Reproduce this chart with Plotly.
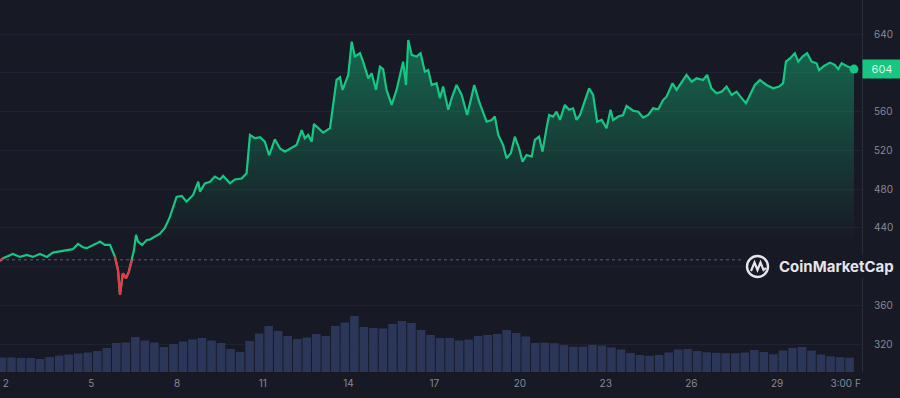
import plotly.graph_objects as go

# ---------------- data ----------------
# time in days of the month, price in USD
days = [1.80, 1.91, 2.25, 2.50, 2.74, 2.95, 3.20, 3.44, 3.65, 3.90, 4.14, 4.35, 4.53, 4.70, 4.84,
        5.02, 5.19, 5.30, 5.47, 5.65, 5.82, 5.93, 6.00, 6.10, 6.21, 6.31, 6.42, 6.49, 6.56, 6.63,
        6.77, 6.94, 7.05, 7.22, 7.40, 7.57, 7.75, 7.98, 8.16, 8.33, 8.56, 8.74, 8.80, 8.97, 9.15,
        9.32, 9.50, 9.61, 9.85, 10.02, 10.26, 10.43, 10.55, 10.72, 10.90, 11.07, 11.22, 11.42, 11.60, 11.77,
        11.95, 12.18, 12.36, 12.47, 12.59, 12.71, 12.79, 12.94, 13.11, 13.35, 13.44, 13.58, 13.70, 13.79, 13.99,
        14.11, 14.22, 14.40, 14.51, 14.69, 14.81, 14.96, 15.10, 15.21, 15.33, 15.51, 15.68, 15.91, 16.01, 16.09,
        16.21, 16.38, 16.52, 16.67, 16.79, 16.91, 17.08, 17.20, 17.31, 17.49, 17.61, 17.78, 17.96, 18.15, 18.25,
        18.40, 18.57, 18.71, 18.83, 19.01, 19.12, 19.24, 19.41, 19.53, 19.68, 19.82, 19.97, 20.09, 20.23, 20.41,
        20.52, 20.67, 20.79, 20.93, 21.02, 21.16, 21.28, 21.40, 21.57, 21.72, 21.86, 21.98, 22.10, 22.24, 22.42,
        22.56, 22.70, 22.86, 23.03, 23.17, 23.26, 23.44, 23.61, 23.73, 23.96, 24.14, 24.31, 24.49, 24.66, 24.84,
        25.01, 25.13, 25.34, 25.48, 25.66, 25.83, 26.01, 26.18, 26.41, 26.55, 26.70, 26.88, 27.06, 27.23, 27.41,
        27.58, 27.76, 27.91, 28.05, 28.22, 28.40, 28.63, 28.86, 29.07, 29.21, 29.31, 29.45, 29.62, 29.74, 29.89,
        30.05, 30.21, 30.38, 30.47, 30.64, 30.85, 31.02, 31.14, 31.26, 31.43, 31.69]

price = [406, 408.6, 413, 410, 412, 410, 413, 410, 414.5, 415.5, 417, 418, 423.4, 420, 419,
         421.3, 424, 425.8, 422.4, 422.4, 410.3, 396.5, 370.7, 393, 388, 394.8, 407, 417, 432.7, 425.8,
         422.4, 427.5, 428, 431, 434, 440, 451.6, 472, 473, 467, 474, 487.7, 477.4, 486, 487.7,
         493, 490, 493.6, 486, 490, 491, 496.4, 536, 532.6, 533.6, 529, 515, 531.5, 522, 518.7,
         522, 525.6, 541, 532.6, 536, 529, 547.3, 543, 538.4, 543, 565, 593, 595.6, 582.5, 598,
         632.4, 617, 620.4, 611.7, 594.5, 599.7, 582.5, 606.5, 604, 582.5, 567, 582.5, 611.7, 587.6, 634,
         618.6, 617, 620.4, 601.4, 603, 587.6, 589.4, 574, 586, 562, 574, 587.6, 577.3, 556.6, 568.7,
         587.6, 570.4, 560, 549.7, 551.5, 555, 536, 525.6, 512, 517, 534.2, 522, 508.4, 515.3, 513.6,
         530.8, 534.2, 518.7, 543, 556.6, 555, 560, 551.5, 567, 562, 563.5, 551.5, 556.6, 568.7, 584.2,
         577.3, 549.7, 551.5, 543, 562, 551.5, 555, 556.6, 566, 561, 560, 554, 556.6, 563.5, 562.5,
         572, 575.5, 589.4, 582.5, 591, 598, 591, 594.5, 592.8, 598, 584.2, 579, 580.7, 586, 577.3,
         580.7, 574, 568.7, 577.3, 587.6, 592.8, 587.6, 584.2, 586, 589.4, 611.7, 615, 620.4, 611.7, 617,
         620.4, 611.7, 610, 603, 607.2, 610.7, 608.3, 604, 610, 607.2, 604]

base_price = 407  # opening price of the period (dotted reference line)

# 8-hour volume bars (arbitrary units)
volume = [14.5, 14.5, 14, 14, 13, 15, 16.5, 17.5, 18.5, 19.5,
          21, 24, 29, 29.5, 35, 31.5, 29.5, 25, 28, 30.5,
          32.5, 34, 31.5, 29, 23, 20, 31, 38.5, 46, 41,
          36, 33, 34.5, 38, 36, 46, 49.5, 56, 45, 44,
          43.5, 48, 51, 49, 42, 37, 34, 34, 31.5, 32.5,
          36, 37, 38, 42, 39, 35.5, 29, 29.3, 28.7, 27,
          25.3, 25.3, 27, 26.5, 24.5, 22.5, 19, 17, 16.3, 17,
          19.5, 22.5, 23, 21, 19.7, 19.2, 18.8, 18.7, 19.5, 22,
          20, 17.8, 21.5, 24, 25, 21.5, 17.5, 15.7, 14.8, 14.3]
volume_start_day = 1.87
volume_step_day = 1 / 3
volume_days = [volume_start_day + i * volume_step_day for i in range(len(volume))]

x_tick_vals = [2, 5, 8, 11, 14, 17, 20, 23, 26, 29, 31.40]
x_tick_text = ["2", "5", "8", "11", "14", "17", "20", "23", "26", "29", "3:00 F"]
y_tick_vals = [320, 360, 400, 440, 480, 520, 560, 600, 640]
# 400 and 600 are hidden behind the logo and the price badge in the reference
y_tick_text = ["320", "360", "", "440", "480", "520", "560", "", "640"]

# ---------------- style ----------------
BG = "#171924"
GREEN = "#16c784"
RED = "#ea3943"
VOL = "#2c3659"
GRID = "#1f2230"
TXT = "#858a98"
FONT = "Inter, Roboto, sans-serif"

W, H = 900, 398
ML, MR, MT, MB = 0, 38, 0, 26
PW, PH = W - ML - MR, H - MT - MB

def pp(x, y):
    """pixel position -> paper coords (decorations only)"""
    return (x - ML) / PW, (H - MB - y) / PH

fig = go.Figure()

# volume bars
fig.add_trace(go.Bar(x=volume_days, y=volume, yaxis="y2", marker=dict(color=VOL, line=dict(width=0)),
                     hoverinfo="skip", showlegend=False))

# price line with gradient fill
fig.add_trace(go.Scatter(
    x=days, y=price, mode="lines", line=dict(color=GREEN, width=2.2),
    fill="tozeroy",
    fillgradient=dict(type="vertical",
                      colorscale=[[0, "rgba(22,199,132,0)"], [1, "rgba(22,199,132,0.46)"]],
                      start=425, stop=640),
    showlegend=False, hoverinfo="skip"))

# red segments below the opening price
rx, ry = [], []
for i in range(len(price) - 1):
    if price[i] < base_price or price[i + 1] < base_price:
        if rx and rx[-1] == days[i]:
            rx.append(days[i + 1]); ry.append(price[i + 1])
        else:
            if rx:
                rx.append(None); ry.append(None)
            rx += [days[i], days[i + 1]]; ry += [price[i], price[i + 1]]
fig.add_trace(go.Scatter(x=rx, y=ry, mode="lines", line=dict(color=RED, width=2.2),
                         showlegend=False, hoverinfo="skip", connectgaps=False))

# end marker
fig.add_trace(go.Scatter(x=[days[-1]], y=[price[-1]], mode="markers",
                         marker=dict(color=GREEN, size=9), showlegend=False, hoverinfo="skip"))

x_lo = days[0]
x_hi = x_lo + (PW / 28.57)

shapes = [
    dict(type="line", xref="paper", yref="y", x0=0, x1=1, y0=base_price, y1=base_price,
         line=dict(color="#5d616e", width=1, dash="dot"), layer="below"),
]
# logo backdrop
bx0, by0 = pp(743, 278)
bx1, by1 = pp(895, 255)
shapes.append(dict(type="rect", xref="paper", yref="paper", x0=bx0, x1=bx1, y0=by0, y1=by1,
                   fillcolor=BG, line=dict(width=0), layer="above"))
cx0, cy0 = pp(747, 277)
cx1, cy1 = pp(768, 256)
shapes.append(dict(type="circle", xref="paper", yref="paper", x0=cx0, x1=cx1, y0=cy0, y1=cy1,
                   line=dict(color="#e4e4ea", width=2.4), layer="above"))
mpts = [pp(751, 271), pp(754.5, 262.5), pp(757.5, 270), pp(760.5, 262.5), pp(763.5, 270), pp(766, 268)]
path = "M " + " L ".join(f"{a:.5f},{b:.5f}" for a, b in mpts)
shapes.append(dict(type="path", xref="paper", yref="paper", path=path,
                   line=dict(color="#e4e4ea", width=2.2), layer="above"))

lx, ly = pp(777, 266.5)
annotations = [
    dict(xref="paper", yref="paper", x=lx, y=ly, xanchor="left", yanchor="middle",
         text="<b>CoinMarketCap</b>", showarrow=False,
         font=dict(family=FONT, size=15, color="#e4e4ea")),
    dict(xref="paper", yref="y", x=1, y=price[-1], xanchor="left", yanchor="middle",
         text=f"{price[-1]:.0f}", showarrow=False, bgcolor=GREEN, width=34, height=14, borderpad=2,
         font=dict(family=FONT, size=11, color="#d6f6e8")),
]

fig.update_layout(
    width=W, height=H, autosize=False,
    margin=dict(l=ML, r=MR, t=MT, b=MB, pad=0),
    paper_bgcolor=BG, plot_bgcolor=BG,
    bargap=0.1,
    font=dict(family=FONT, color=TXT, size=10),
    xaxis=dict(range=[x_lo, x_hi], tickvals=x_tick_vals, ticktext=x_tick_text,
               showgrid=False, zeroline=False, showline=False, ticks="",
               tickfont=dict(size=10, color=TXT), ticklabelstandoff=4),
    yaxis=dict(range=[291.1, 675.4], side="right", tickvals=y_tick_vals, ticktext=y_tick_text,
               showgrid=True, gridcolor=GRID, gridwidth=1, zeroline=False,
               showline=True, linecolor="#2a2d3a", linewidth=1, ticks="",
               tickfont=dict(size=10, color=TXT), ticklabelstandoff=9),
    yaxis2=dict(range=[0, PH], overlaying="y", visible=False, fixedrange=True),
    shapes=shapes,
    annotations=annotations,
    showlegend=False,
)

fig.write_html("out.html", config={"displayModeBar": False},
               post_script="document.body.style.margin='0';")
